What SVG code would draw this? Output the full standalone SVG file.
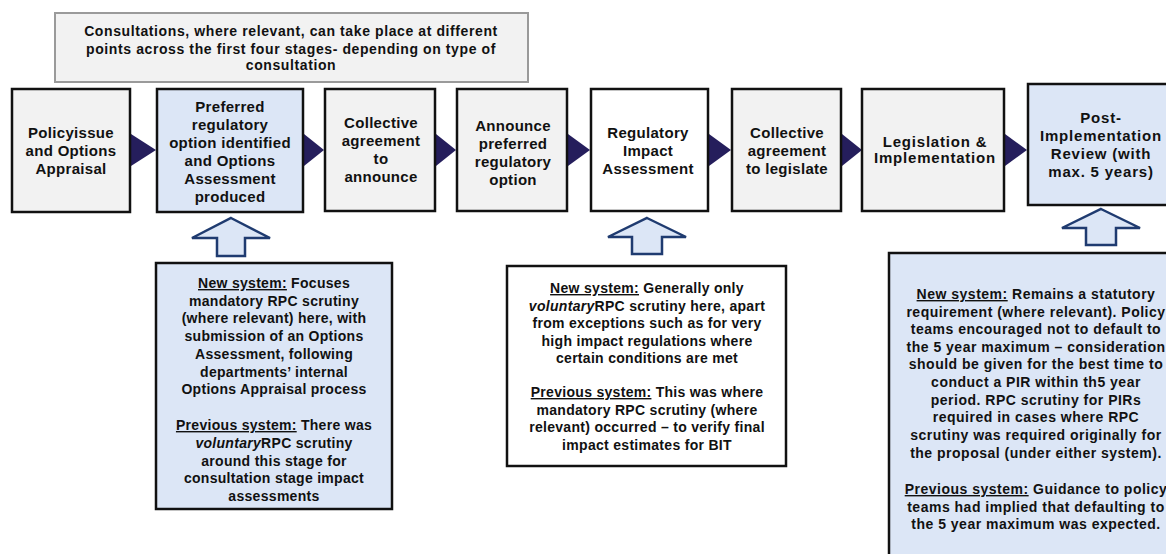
<svg xmlns="http://www.w3.org/2000/svg" width="1166" height="554" viewBox="0 0 1166 554">
<style>
text{font-family:"Liberation Sans",Arial,sans-serif;font-weight:bold;fill:#111;text-anchor:middle}
.t{font-size:15px;letter-spacing:0.3px}
.t8{letter-spacing:0.8px}
.c{font-size:14px;letter-spacing:0.3px}
.c3{letter-spacing:0.5px}
.ct{letter-spacing:0.6px}
.box{stroke:#111;stroke-width:2.5}
.gray{fill:#f2f2f2}
.blue{fill:#dce6f6}
.white{fill:#fff}
.tri{fill:#251e5c}
.up{fill:#dce6f6;stroke:#1f3b70;stroke-width:2.5;stroke-linejoin:miter}
.u{text-decoration:underline}
.i{font-style:italic}
</style>
<rect width="1166" height="554" fill="#fff"/>
<g id="consultations">
<rect x="55" y="13" width="473" height="69" fill="#f2f2f2" stroke="#9a9a9a" stroke-width="2"/>
<text class="c ct"><tspan x="291" y="36">Consultations, where relevant, can take place at different</tspan><tspan x="291" y="54">points across the first four stages- depending on type of</tspan><tspan x="291" y="70">consultation</tspan></text>
</g>
<g id="connectors">
<polygon class="tri" points="131,134 156,150 131,166"/>
<polygon class="tri" points="304,134 324,150 304,166"/>
<polygon class="tri" points="436,134 456,150 436,166"/>
<polygon class="tri" points="568,134 590,150 568,166"/>
<polygon class="tri" points="709,134 731,150 709,166"/>
<polygon class="tri" points="842,134 862,150 842,166"/>
<polygon class="tri" points="1005,134 1027,150 1005,166"/>
<polygon class="up" points="231,218 270,238 245,238 245,256 217,256 217,238 192,238"/>
<polygon class="up" points="647,218 686,237 662,237 662,254 632,254 632,237 608,237"/>
<polygon class="up" points="1101,209 1140,228 1116,228 1116,245 1086,245 1086,228 1062,228"/>
</g>
<g id="n1">
<rect class="box gray" x="12" y="89" width="118" height="123"/>
<text class="t"><tspan x="71" y="138">Policyissue</tspan><tspan x="71" y="156">and Options</tspan><tspan x="71" y="174">Appraisal</tspan></text>
</g>
<g id="n2">
<rect class="box blue" x="157" y="89" width="146" height="123"/>
<text class="t"><tspan x="230" y="112">Preferred</tspan><tspan x="230" y="130">regulatory</tspan><tspan x="230" y="148">option identified</tspan><tspan x="230" y="166">and Options</tspan><tspan x="230" y="184">Assessment</tspan><tspan x="230" y="202">produced</tspan></text>
</g>
<g id="n3">
<rect class="box gray" x="325" y="89" width="110" height="122"/>
<text class="t"><tspan x="381" y="128">Collective</tspan><tspan x="381" y="146">agreement</tspan><tspan x="381" y="164">to</tspan><tspan x="381" y="182">announce</tspan></text>
</g>
<g id="n4">
<rect class="box gray" x="457" y="89" width="110" height="122"/>
<text class="t"><tspan x="513" y="131">Announce</tspan><tspan x="513" y="149">preferred</tspan><tspan x="513" y="167">regulatory</tspan><tspan x="513" y="185">option</tspan></text>
</g>
<g id="n5">
<rect class="box white" x="591" y="89" width="117" height="122"/>
<text class="t"><tspan x="648" y="138">Regulatory</tspan><tspan x="648" y="156">Impact</tspan><tspan x="648" y="174">Assessment</tspan></text>
</g>
<g id="n6">
<rect class="box gray" x="732" y="89" width="109" height="122"/>
<text class="t"><tspan x="787" y="138">Collective</tspan><tspan x="787" y="156">agreement</tspan><tspan x="787" y="174">to legislate</tspan></text>
</g>
<g id="n7">
<rect class="box gray" x="862" y="89" width="142" height="122"/>
<text class="t t8"><tspan x="935" y="147">Legislation &amp;</tspan><tspan x="935" y="163">Implementation</tspan></text>
</g>
<g id="n8">
<rect class="box blue" x="1028" y="84" width="146" height="121"/>
<text class="t t8"><tspan x="1101" y="123">Post-</tspan><tspan x="1101" y="141">Implementation</tspan><tspan x="1101" y="159">Review (with</tspan><tspan x="1101" y="177">max. 5 years)</tspan></text>
</g>
<g id="note1">
<rect class="box blue" x="156" y="263" width="236" height="246"/>
<text class="c"><tspan x="274" y="288"><tspan class="u">New system:</tspan> Focuses</tspan><tspan x="274" y="306">mandatory RPC scrutiny</tspan><tspan x="274" y="323">(where relevant) here, with</tspan><tspan x="274" y="341">submission of an Options</tspan><tspan x="274" y="359">Assessment, following</tspan><tspan x="274" y="377">departments’ internal</tspan><tspan x="274" y="394">Options Appraisal process</tspan><tspan x="274" y="430"><tspan class="u">Previous system:</tspan> There was</tspan><tspan x="274" y="448"><tspan class="i">voluntary</tspan>RPC scrutiny</tspan><tspan x="274" y="466">around this stage for</tspan><tspan x="274" y="483">consultation stage impact</tspan><tspan x="274" y="501">assessments</tspan></text>
</g>
<g id="note2">
<rect class="box white" x="507" y="266" width="279" height="200"/>
<text class="c"><tspan x="647" y="293"><tspan class="u">New system:</tspan> Generally only</tspan><tspan x="647" y="311"><tspan class="i">voluntary</tspan>RPC scrutiny here, apart</tspan><tspan x="647" y="328">from exceptions such as for very</tspan><tspan x="647" y="346">high impact regulations where</tspan><tspan x="647" y="363">certain conditions are met</tspan><tspan x="647" y="397"><tspan class="u">Previous system:</tspan> This was where</tspan><tspan x="647" y="415">mandatory RPC scrutiny (where</tspan><tspan x="647" y="432">relevant) occurred – to verify final</tspan><tspan x="647" y="450">impact estimates for BIT</tspan></text>
</g>
<g id="note3">
<rect class="box blue" x="889" y="253" width="292" height="310"/>
<text class="c c3"><tspan x="1036" y="299"><tspan class="u">New system:</tspan> Remains a statutory</tspan><tspan x="1036" y="317">requirement (where relevant). Policy</tspan><tspan x="1036" y="334">teams encouraged not to default to</tspan><tspan x="1036" y="352">the 5 year maximum – consideration</tspan><tspan x="1036" y="369">should be given for the best time to</tspan><tspan x="1036" y="387">conduct a PIR within th5 year</tspan><tspan x="1036" y="405">period. RPC scrutiny for PIRs</tspan><tspan x="1036" y="422">required in cases where RPC</tspan><tspan x="1036" y="440">scrutiny was required originally for</tspan><tspan x="1036" y="458">the proposal (under either system).</tspan><tspan x="1036" y="494"><tspan class="u">Previous system:</tspan> Guidance to policy</tspan><tspan x="1036" y="512">teams had implied that defaulting to</tspan><tspan x="1036" y="529">the 5 year maximum was expected.</tspan></text>
</g>
</svg>
